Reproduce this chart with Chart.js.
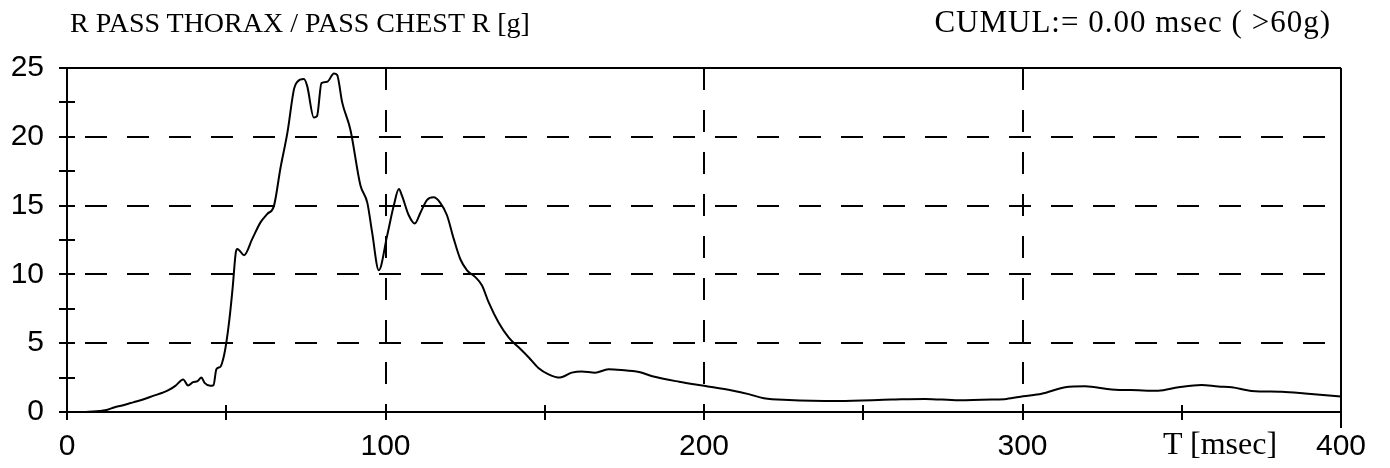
<!DOCTYPE html>
<html>
<head>
<meta charset="UTF-8">
<title>R PASS THORAX / PASS CHEST R</title>
<script src="https://cdn.jsdelivr.net/npm/chart.js"></script>
<style>
  html, body {
    margin: 0;
    padding: 0;
    background: #fff;
  }
  #wrap {
    position: relative;
    width: 1390px;
    height: 468px;
  }
  #chest {
    position: absolute;
    left: 0;
    top: 0;
  }
  .lbl {
    position: absolute;
    font-family: "Liberation Serif", "Times New Roman", serif;
    line-height: 1;
    color: #000;
    white-space: nowrap;
  }
  #titleLeft { left: 70px; top: 9px; font-size: 28px; }
  #titleRight { right: 59px; top: 6px; font-size: 31px; letter-spacing: 1px; }
  #xTitle { left: 1163px; top: 427px; font-size: 32px; }
</style>
</head>
<body>
<div id="wrap">
  <canvas id="chest" width="1390" height="468"></canvas>
  <div class="lbl" id="titleLeft">R PASS THORAX / PASS CHEST R [g]</div>
  <div class="lbl" id="titleRight">CUMUL:= 0.00 msec ( &gt;60g)</div>
  <div class="lbl" id="xTitle">T [msec]</div>
</div>

<script>
// time [msec] and resultant chest acceleration [g]
const tMs = [
  0, 5, 10, 12, 15, 17, 20, 22, 25, 27, 30, 32, 34, 36.5, 38, 39.6, 41, 42.2, 43.2, 45, 46,
  46.9, 48.2, 49.3, 50, 51, 52, 53, 53.5, 55.6, 58.2, 60.8, 62.9, 65, 67, 69.2, 71.3, 72.3,
  74.4, 75.4, 77.5, 78.5, 79.9, 81.7, 83.8, 84.8, 86.4, 89, 92.1, 94.3, 95.8, 97.9, 100.5,
  102.6, 104.2, 105.2, 107.3, 109.2, 111, 113, 115.1, 117.2, 119.3, 121.4, 123.5, 125.6,
  128.2, 130.3, 132.4, 135.5, 138.7, 141.8, 145, 148, 151.2, 154.8, 158.5, 161.6, 165.8,
  170, 174, 179.6, 183.8, 192.2, 200, 208.8, 214, 218.8, 226.6, 242.3, 258.9, 269.4, 280,
  290.3, 295, 300.2, 306, 313.4, 319.6, 328, 336.4, 342.6, 349, 356.2, 361.5, 365.7, 372,
  381.4, 388.7, 400
];
const accelG = [
  0, 0, 0.07, 0.12, 0.35, 0.46, 0.65, 0.78, 1.0, 1.17, 1.4, 1.6, 1.9, 2.37, 1.93, 2.17, 2.24, 2.5, 2.12, 1.9, 1.95,
  3.1, 3.3, 4.1, 5.0, 6.75, 9.0, 11.6, 11.85, 11.4, 12.6, 13.8, 14.4, 15.0, 17.7, 20.3, 23.5, 24.0,
  24.2, 23.7, 21.4, 21.5, 23.9, 24.0, 24.6, 24.5, 22.5, 20.5, 16.5, 15.2, 13.05, 10.3, 12.8,
  15.0, 16.2, 15.7, 14.3, 13.7, 14.5, 15.4, 15.6, 15.2, 14.3, 12.6, 11.1, 10.3,
  9.8, 9.2, 7.96, 6.5, 5.4, 4.7, 3.96, 3.2, 2.74, 2.5, 2.86, 2.95, 2.86,
  3.1, 3.05, 2.9, 2.6, 2.2, 1.9, 1.56, 1.3, 1.0, 0.87, 0.8, 0.9, 0.95, 0.85,
  0.9, 0.95, 1.14, 1.33, 1.8, 1.87, 1.64, 1.58, 1.55, 1.8, 1.97, 1.85, 1.8, 1.53,
  1.47, 1.35, 1.12
];

// dashed grid positions and small axis ticks
const gridY = [5, 10, 15, 20];
const gridX = [100, 200, 300];
const minorY = [0, 2.5, 5, 7.5, 10, 12.5, 15, 17.5, 20, 22.5, 25];
const minorX = [0, 50, 100, 150, 200, 250, 300, 350, 400];

const points = tMs.map((t, i) => ({ x: t, y: accelG[i] }));

// frame, dashed grid and ticks that cross the axes
const framePlugin = {
  id: 'framePlugin',
  beforeDatasetsDraw(chart) {
    const { ctx, chartArea: a, scales: { x, y } } = chart;
    ctx.save();
    ctx.strokeStyle = '#000';
    ctx.lineWidth = 2;
    ctx.setLineDash([22, 20]);
    gridY.forEach(v => {
      const py = Math.round(y.getPixelForValue(v));
      ctx.beginPath();
      ctx.moveTo(a.left + 18, py);
      ctx.lineTo(a.right, py);
      ctx.stroke();
    });
    gridX.forEach(v => {
      const px = Math.round(x.getPixelForValue(v));
      ctx.beginPath();
      ctx.moveTo(px, a.top);
      ctx.lineTo(px, a.bottom);
      ctx.stroke();
    });
    ctx.restore();
  },
  afterDatasetsDraw(chart) {
    const { ctx, chartArea: a, scales: { x, y } } = chart;
    ctx.save();
    ctx.strokeStyle = '#000';
    ctx.lineWidth = 2;
    ctx.setLineDash([]);
    ctx.beginPath();
    ctx.moveTo(a.left, a.top);
    ctx.lineTo(a.right, a.top);
    ctx.moveTo(a.left, a.top);
    ctx.lineTo(a.left, a.bottom + 8);
    ctx.moveTo(a.left - 8, a.bottom);
    ctx.lineTo(a.right, a.bottom);
    ctx.moveTo(a.right, a.top);
    ctx.lineTo(a.right, a.bottom + 16);
    minorY.forEach(v => {
      const py = Math.round(y.getPixelForValue(v));
      ctx.moveTo(a.left - 8, py);
      ctx.lineTo(a.left + 8, py);
    });
    minorX.forEach(v => {
      const px = Math.round(x.getPixelForValue(v));
      ctx.moveTo(px, a.bottom - 7);
      ctx.lineTo(px, a.bottom + 8);
    });
    ctx.stroke();
    ctx.restore();
  }
};

new Chart(document.getElementById('chest'), {
  type: 'line',
  data: {
    datasets: [{
      data: points,
      borderColor: '#000',
      borderWidth: 2,
      pointRadius: 0,
      cubicInterpolationMode: 'monotone',
      fill: false
    }]
  },
  options: {
    responsive: false,
    animation: false,
    layout: { padding: { top: 68, right: 49, left: 0, bottom: 0 } },
    plugins: {
      legend: { display: false },
      tooltip: { enabled: false }
    },
    scales: {
      x: {
        type: 'linear',
        min: 0,
        max: 400,
        afterFit: s => { s.height = 56; },
        grid: { display: false, drawTicks: false },
        border: { display: false },
        ticks: {
          stepSize: 100,
          padding: 17,
          maxRotation: 0,
          color: '#000',
          font: { family: 'Liberation Sans', size: 30 }
        }
      },
      y: {
        min: 0,
        max: 25,
        afterFit: s => { s.width = 67; },
        grid: { display: false, drawTicks: false },
        border: { display: false },
        ticks: {
          stepSize: 5,
          padding: 23,
          color: '#000',
          font: { family: 'Liberation Sans', size: 30 }
        }
      }
    }
  },
  plugins: [framePlugin]
});
</script>
</body>
</html>
